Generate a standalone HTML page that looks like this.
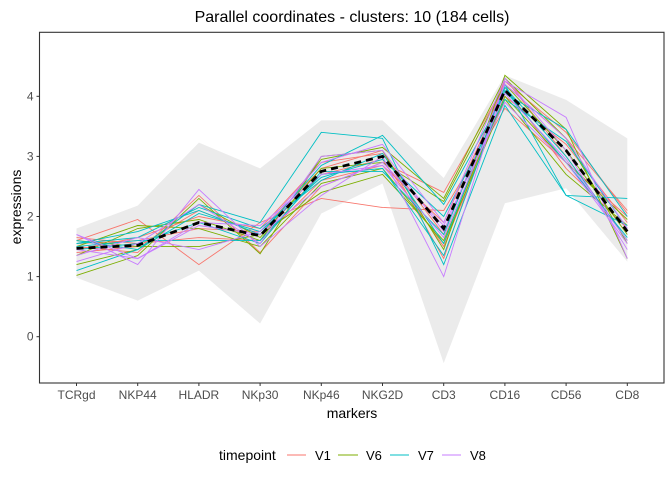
<!DOCTYPE html>
<html><head><meta charset="utf-8"><style>
body{margin:0;background:#fff;font-family:"Liberation Sans",sans-serif}
svg{display:block}
</style></head><body>
<svg id="chart" width="672" height="480" xmlns="http://www.w3.org/2000/svg">
<text x="352" y="22" text-anchor="middle" font-size="16" fill="#000">Parallel coordinates - clusters: 10 (184 cells)</text>
<g id="plot"></g>
<text x="352" y="418" text-anchor="middle" font-size="14">markers</text>
<text transform="translate(21,207) rotate(-90)" text-anchor="middle" font-size="14">expressions</text>
<g font-size="13">
<text x="219" y="460" font-size="14">timepoint</text>
<g><line x1="287" y1="455" x2="306" y2="455" stroke="#F8766D"/><text x="315" y="460">V1</text></g>
<g><line x1="338" y1="455" x2="358" y2="455" stroke="#7CAE00"/><text x="366" y="460">V6</text></g>
<g><line x1="390" y1="455" x2="409" y2="455" stroke="#00BFC4"/><text x="418" y="460">V7</text></g>
<g><line x1="442" y1="455" x2="461" y2="455" stroke="#C77CFF"/><text x="470" y="460">V8</text></g>
</g>
</svg>
<script>
const markers=["TCRgd","NKP44","HLADR","NKp30","NKp46","NKG2D","CD3","CD16","CD56","CD8"];
const yTicks=[0,1,2,3,4];
const bandMax=[1.8,2.18,3.23,2.8,3.6,3.6,2.64,4.35,3.94,3.3];
const bandMin=[0.98,0.6,1.1,0.22,2.05,2.55,-0.44,2.22,2.47,1.25];
const median=[1.47,1.52,1.9,1.68,2.75,3.0,1.8,4.1,3.1,1.75];
const groups=["V1","V6","V7","V8"];
const groupColors=["#F8766D","#7CAE00","#00BFC4","#C77CFF"];
const linesV1=[
[1.6,1.95,1.2,1.9,2.3,2.15,2.1,3.8,2.9,2.0],
[1.5,1.4,2.35,1.4,2.5,2.9,2.4,4.2,3.3,2.1],
[1.55,1.6,1.8,1.75,2.8,3.1,1.3,4.3,3.0,1.6],
[1.4,1.5,2.1,1.7,2.7,2.95,1.5,4.0,3.2,1.9],
[1.65,1.55,1.65,1.6,2.6,2.85,1.9,4.15,2.8,1.8],
[1.45,1.65,2.0,1.8,2.9,3.05,1.7,4.25,3.4,2.05]];
const linesV6=[
[1.02,1.35,2.3,1.38,3.0,3.1,1.45,4.35,3.45,1.3],
[1.35,1.8,1.95,1.6,2.95,3.15,2.3,4.3,3.3,1.55],
[1.6,1.5,1.5,1.7,2.4,2.7,1.6,4.0,2.9,1.95],
[1.2,1.45,2.2,1.65,2.8,2.9,2.25,4.2,3.1,1.7],
[1.5,1.85,1.8,1.5,2.55,2.8,1.55,3.95,2.7,1.85]];
const linesV7=[
[1.1,1.45,2.2,1.9,3.4,3.3,1.2,3.85,2.35,2.3],
[1.55,1.75,2.1,1.7,2.85,3.35,2.2,4.05,3.45,2.0],
[1.5,1.6,1.6,1.6,2.7,2.8,1.35,4.1,2.9,1.65],
[1.6,1.45,2.05,1.75,2.65,2.95,2.0,3.95,3.25,1.8],
[1.45,1.55,1.9,1.55,2.75,2.75,1.7,4.2,2.35,1.85],
[1.55,1.65,2.15,1.8,2.6,3.05,1.55,4.15,3.0,1.6]];
const linesV8=[
[1.7,1.2,2.45,1.5,2.35,3.0,1.0,4.25,3.65,1.3],
[1.35,1.65,1.45,1.75,2.9,3.2,1.9,4.3,3.1,1.45],
[1.7,1.3,1.85,1.7,2.5,2.9,1.85,3.9,2.9,1.55],
[1.25,1.55,2.2,1.55,3.0,3.1,1.75,4.2,3.3,1.8],
[1.45,1.3,1.9,1.85,2.7,2.85,1.65,4.05,2.95,1.6]];
const groupLines=[linesV1,linesV6,linesV7,linesV8];

const NS="http://www.w3.org/2000/svg";
const L=39.5,R=664,T=32.3,B=383;
const xs=i=>76.5+i*61.2;
const ys=v=>336.7-v*60.1;
const g=document.getElementById("plot");
function mk(tag,attrs){const e=document.createElementNS(NS,tag);for(const k in attrs)e.setAttribute(k,attrs[k]);g.appendChild(e);return e;}
// band
let pts=bandMax.map((v,i)=>xs(i)+","+ys(v)).concat(bandMin.map((v,i)=>[i,v]).reverse().map(([i,v])=>xs(i)+","+ys(v)));
const band=mk("polygon",{points:pts.join(" "),fill:"#EBEBEB"});


// lines
groupLines.forEach((set,gi)=>{set.forEach((vals,li)=>{
 const p=mk("polyline",{points:vals.map((v,i)=>xs(i)+","+ys(v)).join(" "),fill:"none",stroke:groupColors[gi],"stroke-width":"0.9"});
 
 
});});
const med=mk("polyline",{points:median.map((v,i)=>xs(i)+","+ys(v)).join(" "),fill:"none",stroke:"#000","stroke-width":"2.8","stroke-dasharray":"7,5"});


// frame
const fr=mk("rect",{x:L,y:T,width:R-L,height:B-T,fill:"none",stroke:"#333","stroke-width":"1.1"});


yTicks.forEach(v=>{
 const t=mk("line",{x1:L-3,x2:L,y1:ys(v),y2:ys(v),stroke:"#333"});
 
 
 const tx=mk("text",{x:L-6,y:ys(v)+4,"text-anchor":"end","font-size":"12",fill:"#4D4D4D"});
 tx.textContent=v;
 
 
});
markers.forEach((m,i)=>{
 const t=mk("line",{x1:xs(i),x2:xs(i),y1:B,y2:B+3,stroke:"#333"});
 
 
 const tx=mk("text",{x:xs(i),y:B+16,"text-anchor":"middle","font-size":"12",fill:"#4D4D4D"});
 tx.textContent=m;
 
 
});
</script>
</body></html>
